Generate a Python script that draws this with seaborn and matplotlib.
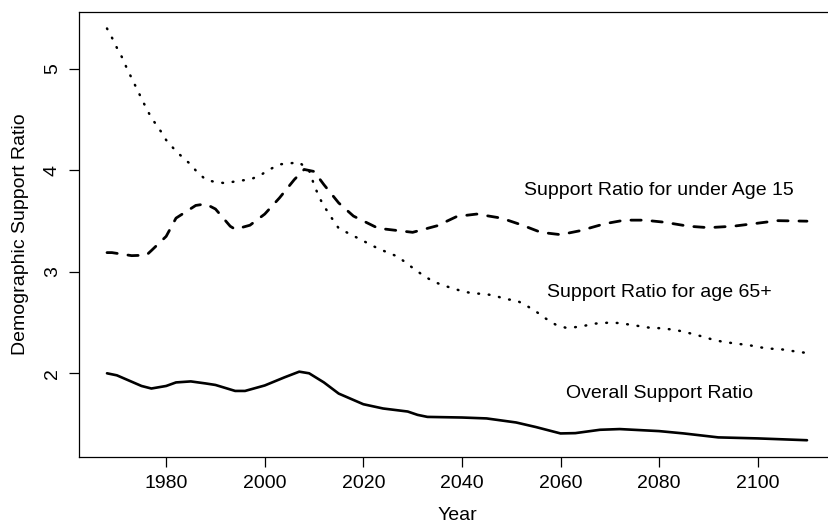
import matplotlib
matplotlib.use('Agg')
import matplotlib.pyplot as plt
import seaborn as sns
import pandas as pd

# Значения
years_overall = [1968, 1970, 1975, 1977, 1980, 1982, 1985, 1988, 1990, 1994, 1996, 2000,
                 2004, 2007, 2009, 2012, 2015, 2020, 2024, 2029, 2031, 2033, 2040, 2045,
                 2051, 2055, 2060, 2063, 2068, 2072, 2080, 2085, 2092, 2100, 2110]
overall = [2.00, 1.98, 1.875, 1.85, 1.875, 1.91, 1.92, 1.90, 1.885, 1.826, 1.826, 1.88,
           1.96, 2.016, 2.00, 1.91, 1.80, 1.695, 1.653, 1.623, 1.59, 1.57, 1.564, 1.555,
           1.515, 1.47, 1.407, 1.41, 1.443, 1.45, 1.43, 1.407, 1.368, 1.358, 1.34]

years_under15 = [1968, 1969, 1973, 1976, 1977, 1980, 1982, 1986, 1988, 1990, 1993, 1994,
                 1997, 2000, 2003, 2006, 2008, 2010, 2012, 2015, 2018, 2023, 2030, 2035,
                 2039, 2043, 2048, 2052, 2056, 2060, 2064, 2069, 2073, 2077, 2081, 2086,
                 2090, 2095, 2100, 2104, 2110]
under15 = [3.19, 3.19, 3.16, 3.165, 3.21, 3.35, 3.53, 3.655, 3.67, 3.62, 3.45, 3.42,
           3.46, 3.57, 3.73, 3.91, 4.01, 3.99, 3.86, 3.68, 3.55, 3.43, 3.39, 3.455,
           3.547, 3.57, 3.53, 3.465, 3.39, 3.367, 3.406, 3.475, 3.51, 3.51, 3.49, 3.45,
           3.436, 3.45, 3.48, 3.505, 3.50]

years_65 = [1968, 1969, 1970, 1971, 1972, 1973, 1974, 1975, 1976, 1977, 1979, 1980, 1982,
            1984, 1985, 1986, 1988, 1990, 1992, 1995, 1997, 1999, 2001, 2003, 2005, 2007,
            2009, 2010, 2011, 2012, 2014, 2015, 2017, 2019, 2021, 2023, 2027, 2030, 2032,
            2034, 2036, 2038, 2040, 2042, 2045, 2047, 2049, 2051, 2053, 2055, 2057, 2059,
            2061, 2063, 2065, 2067, 2070, 2072, 2074, 2076, 2078, 2080, 2083, 2085, 2087,
            2089, 2091, 2093, 2096, 2098, 2100, 2102, 2105, 2107, 2110]
ratio_65 = [5.40, 5.31, 5.21, 5.12, 5.01, 4.91, 4.81, 4.71, 4.61, 4.52, 4.38, 4.30, 4.19,
            4.10, 4.06, 4.00, 3.91, 3.885, 3.875, 3.90, 3.91, 3.95, 4.01, 4.06, 4.07, 4.08,
            4.00, 3.86, 3.74, 3.65, 3.50, 3.43, 3.38, 3.33, 3.28, 3.23, 3.15, 3.04, 2.97,
            2.91, 2.87, 2.84, 2.81, 2.79, 2.78, 2.76, 2.73, 2.72, 2.67, 2.61, 2.54, 2.48,
            2.45, 2.455, 2.47, 2.49, 2.50, 2.495, 2.48, 2.465, 2.45, 2.445, 2.43, 2.41,
            2.385, 2.36, 2.33, 2.31, 2.29, 2.28, 2.26, 2.245, 2.235, 2.22, 2.20]

labels = ['Support Ratio for under Age 15', 'Support Ratio for age 65+', 'Overall Support Ratio']
label_x = 2080
label_y = [3.8, 2.8, 1.8]

sns.set_style('white')
plt.rcParams['font.family'] = ['Liberation Sans', 'DejaVu Sans']
plt.rcParams['text.color'] = 'black'
plt.rcParams['axes.labelcolor'] = 'black'
plt.rcParams['xtick.color'] = 'black'
plt.rcParams['ytick.color'] = 'black'

fig = plt.figure(figsize=(8.29, 5.24), dpi=100)
ax = fig.add_axes([79 / 829, (524 - 456.7) / 524, (835 - 79) / 829, 444.7 / 524])

df_overall = pd.DataFrame({'year': years_overall, 'ratio': overall})
df_under15 = pd.DataFrame({'year': years_under15, 'ratio': under15})
df_65 = pd.DataFrame({'year': years_65, 'ratio': ratio_65})

sns.lineplot(data=df_overall, x='year', y='ratio', ax=ax, color='black', linewidth=1.9)
sns.lineplot(data=df_under15, x='year', y='ratio', ax=ax, color='black', linewidth=2.0)
ax.lines[-1].set_dashes((3.7, 3.9))
ax.lines[-1].set_dash_capstyle('round')
sns.lineplot(data=df_65, x='year', y='ratio', ax=ax, color='black', linewidth=1.8)
ax.lines[-1].set_dashes((0.3, 3.9))
ax.lines[-1].set_dash_capstyle('round')
for line in ax.lines:
    line.set_solid_capstyle('round')
    line.set_solid_joinstyle('round')

for txt, yy in zip(labels, label_y):
    ax.text(label_x, yy, txt, ha='center', va='center', fontsize=14)

# Границы как в R (4% расширение)
ax.set_xlim(1968 - 142 * 0.04, 2110 + 142 * 0.04)
ax.set_ylim(1.34 - 4.06 * 0.04, 5.40 + 4.06 * 0.04)
ax.set_xticks([1980, 2000, 2020, 2040, 2060, 2080, 2100])
ax.set_yticks([2, 3, 4, 5])
ax.tick_params(axis='both', direction='out', length=7, width=0.9, color='black',
               labelsize=14, pad=6, left=True, bottom=True)
plt.setp(ax.get_yticklabels(), rotation=90, va='center')
ax.set_xlabel('Year', fontsize=14, labelpad=11)
ax.set_ylabel('Demographic Support Ratio', fontsize=14, labelpad=11)
for sp in ax.spines.values():
    sp.set_color('black')
    sp.set_linewidth(0.9)

fig.savefig('out.png', dpi=100)
